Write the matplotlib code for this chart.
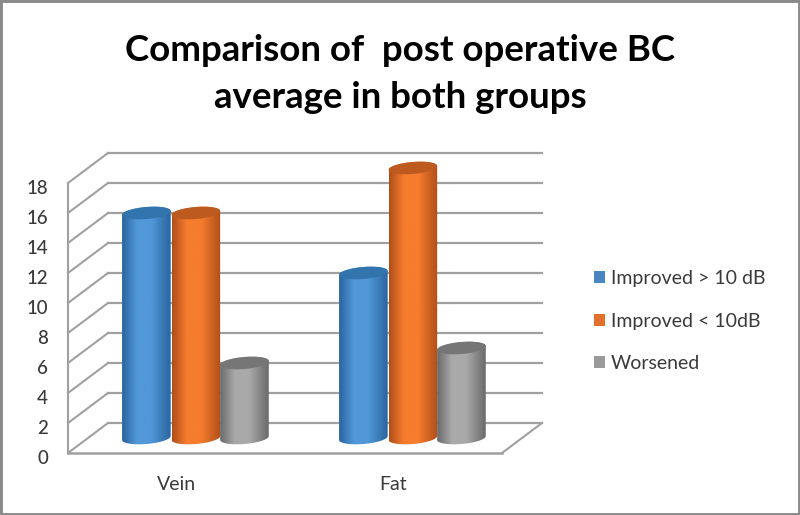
import matplotlib
matplotlib.use("Agg")
import matplotlib.pyplot as plt
import matplotlib.transforms as mtrans
import numpy as np
from matplotlib.colors import LinearSegmentedColormap
from matplotlib.patches import Patch, Polygon, Rectangle

plt.rcParams['font.family'] = ['Lato', 'DejaVu Sans']

title = "Comparison of  post operative BC\naverage in both groups"
categories = ["Vein", "Fat"]
series_names = ["Improved > 10 dB", "Improved < 10dB", "Worsened"]
improved_more = [15, 11]
improved_less = [15, 18]
worsened = [5, 6]
y_ticks = list(range(0, 20, 2))

# edge, middle, top cap, legend
colors = [
    ("#2a659f", "#5198d8", "#3274ad", "#4a86c0"),
    ("#b04f1a", "#f67c2e", "#bd5a1f", "#e0702c"),
    ("#6b6b6b", "#a9a9a9", "#767676", "#9a9a9a"),
]
grid_color = "#a0a0a0"
text_color = "#3a3a3a"

fig = plt.figure(figsize=(8, 5.15), dpi=100)
ax = fig.add_axes([0, 0, 1, 1])
ax.axis("off")
# data space is the back wall: one category = 217 px, one unit = 15 px
xlim = (-216.5 / 217, 583.5 / 217)
ylim = (-92 / 15, 423 / 15)

front = ax.transData + mtrans.Affine2D().translate(-40, -30)
mid = ax.transData + mtrans.Affine2D().translate(-20, -15)
ax.set_xlim(xlim)
ax.set_ylim(ylim)

# outer frame
fig.add_artist(Rectangle((0, 0), 1, 1, transform=fig.transFigure, fill=False,
                         ec="#8a8a8a", lw=3.5))

# walls
x0, x1 = -0.5, 1.5
depth = 40 / 217
for v in y_ticks:
    ax.plot([x0, x1], [v, v], color=grid_color, lw=1.6, zorder=1)
    ax.plot([x0, x0 - depth], [v, v - 2], color=grid_color, lw=1.5, zorder=1)
ax.plot([x0, x0], [0, 18], color=grid_color, lw=1.5, transform=front, zorder=1)
ax.plot([x0, x1], [0, 0], color=grid_color, lw=1.8, transform=front, zorder=1)
ax.plot([x1 - depth, x1], [-2, 0], color=grid_color, lw=1.5, zorder=1)

for v in y_ticks:
    ax.text(x0 - 20 / 217, v - 0.35, str(v), transform=front, ha="right", va="center",
            fontsize=13.5, fontweight="medium", color=text_color)
for i, c in enumerate(categories):
    ax.text(i, -2.1, c, transform=front, ha="center", va="center",
            fontsize=14, color=text_color)


def cylinder(xc, value, cols, z):
    half = 0.112
    b = 0.40
    tilt = 0.13
    t = np.linspace(0, np.pi, 60)
    top_x = xc + half * np.cos(t)
    top_y = value + b * np.sin(t) + tilt * np.cos(t)
    bot_x = xc + half * np.cos(t + np.pi)
    bot_y = b * np.sin(t + np.pi) - tilt * np.cos(t)
    body = Polygon(np.column_stack([np.r_[top_x, bot_x], np.r_[top_y, bot_y]]),
                   closed=True, transform=mid, fc="none", ec="none")
    ax.add_patch(body)
    cmap = LinearSegmentedColormap.from_list(
        "c", [(0, cols[0]), (0.3, cols[1]), (0.6, cols[1]), (1, cols[0])])
    im = ax.imshow(np.linspace(0, 1, 64)[None, :], cmap=cmap, aspect="auto",
                   extent=(xc - half, xc + half, -1, value + 1), zorder=z,
                   transform=mid, interpolation="bilinear")
    im.set_clip_path(body)
    t2 = np.linspace(0, 2 * np.pi, 80)
    cap = Polygon(np.column_stack([xc + half * np.cos(t2),
                                   value + b * np.sin(t2) + tilt * np.cos(t2)]),
                  closed=True, transform=mid, fc=cols[2], ec="none", zorder=z + 0.1)
    ax.add_patch(cap)


offsets = [-0.228, 0.0, 0.224]
for s, vals in enumerate([improved_more, improved_less, worsened]):
    for i, v in enumerate(vals):
        cylinder(i + offsets[s] - 0.003, v, colors[s], 3 + s)

ax.set_xlim(xlim)
ax.set_ylim(ylim)

ax.text(400 / 800, 1 - 74 / 515, title, transform=ax.transAxes, ha="center", va="center",
        fontsize=26.4, fontweight="bold", color="black", linespacing=1.52)

handles = [Patch(fc=c[3], ec="none") for c in colors]
leg = ax.legend(handles, series_names, loc="center left",
                bbox_to_anchor=(594 / 800, 1 - 321 / 515), frameon=False,
                fontsize=14, labelspacing=1.3, handlelength=0.57, handleheight=0.57,
                handletextpad=0.28, borderpad=0, borderaxespad=0, labelcolor=text_color)

fig.savefig("out.png", dpi=100, facecolor="white")
